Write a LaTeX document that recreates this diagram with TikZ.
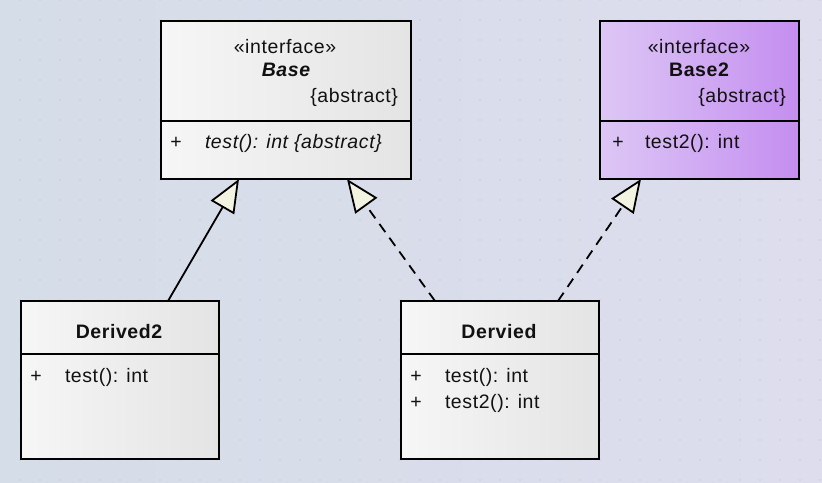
\documentclass[tikz,border=0pt]{standalone}
\usepackage{fontspec}
\setmainfont{Liberation Sans}[LetterSpace=3]
\usetikzlibrary{arrows.meta,calc}
\definecolor{bgL}{RGB}{213,221,232}
\definecolor{bgR}{RGB}{221,221,237}
\definecolor{boxL}{RGB}{246,246,246}
\definecolor{boxR}{RGB}{228,228,228}
\definecolor{purL}{RGB}{221,199,245}
\definecolor{purR}{RGB}{196,142,240}
\definecolor{tipfill}{RGB}{243,243,226}
\definecolor{dotc}{RGB}{182,188,202}
\definecolor{ink}{RGB}{17,17,17}
\tikzset{
  umlbox/.style={draw=black, line width=2pt, rectangle, outer sep=0pt, inner sep=0pt, anchor=north west, shading=axis, left color=boxL, right color=boxR, shading angle=90},
  purbox/.style={umlbox, left color=purL, right color=purR},
  txt/.style={inner sep=0pt, outer sep=0pt, text=ink, font=\fontsize{19.5}{23}\selectfont},
  realize/.style={draw=black, line width=1.8pt, -{Triangle[length=33pt, width=27pt, fill=tipfill, line join=miter]}},
  realizedash/.style={realize, dash pattern=on 10pt off 7pt},
}
\begin{document}
\begin{tikzpicture}[x=1pt,y=-1pt]
\useasboundingbox (0,0) rectangle (822,482);
\shade[left color=bgL, right color=bgR] (0,0) rectangle (822,482);
\foreach \i in {1,...,41} {
  \foreach \j in {0,...,24} {
    \fill[dotc] (\i*20,\j*20) circle (0.6pt);
  }
}
% boxes
\node[umlbox, minimum width=250pt, minimum height=158pt] (base) at (161,21) {};
\node[purbox, minimum width=199pt, minimum height=158pt] (base2) at (600,21) {};
\node[umlbox, minimum width=198pt, minimum height=158pt] (d2) at (21,301) {};
\node[umlbox, minimum width=198pt, minimum height=158pt] (dv) at (401,301) {};
% dividers
\draw[line width=2pt] ($(base.north west)+(0,100)$) -- ($(base.north east)+(0,100)$);
\draw[line width=2pt] ($(base2.north west)+(0,100)$) -- ($(base2.north east)+(0,100)$);
\draw[line width=2pt] ($(d2.north west)+(0,53)$) -- ($(d2.north east)+(0,53)$);
\draw[line width=2pt] ($(dv.north west)+(0,53)$) -- ($(dv.north east)+(0,53)$);
% Base texts
\node[txt, anchor=base] (b1) at (285,53) {«interface»};
\node[txt, anchor=base] (b2) at (286,76) {\bfseries\itshape Base};
\node[txt, anchor=base east] (b3) at (398,102) {\{abstract\}};
\node[txt, anchor=base] (b4) at (176,148) {+};
\node[txt, anchor=base west] (b5) at (205,148) {\itshape test(): int \{abstract\}};
% Base2 texts
\node[txt, anchor=base] (c1) at (699,53) {«interface»};
\node[txt, anchor=base] (c2) at (699,76) {\bfseries Base2};
\node[txt, anchor=base east] (c3) at (786,102) {\{abstract\}};
\node[txt, anchor=base] (c4) at (618,148) {+};
\node[txt, anchor=base west] (c5) at (645,148) {test2(): int};
% Derived2 texts
\node[txt, anchor=base] (e1) at (119,338) {\bfseries Derived2};
\node[txt, anchor=base] (e2) at (36,382) {+};
\node[txt, anchor=base west] (e3) at (65,382) {test(): int};
% Dervied texts
\node[txt, anchor=base] (f1) at (499,338) {\bfseries Dervied};
\node[txt, anchor=base] (f2) at (416,382) {+};
\node[txt, anchor=base west] (f3) at (445,382) {test(): int};
\node[txt, anchor=base] (f4) at (416,408) {+};
\node[txt, anchor=base west] (f5) at (445,408) {test2(): int};
% connectors
\draw[realize] ($(d2.north west)+(147,0)$) -- ($(base.south west)+(78,0)$);
\draw[realizedash] ($(dv.north west)+(34,0)$) -- ($(base.south west)+(186,0)$);
\draw[realizedash] ($(dv.north west)+(157,0)$) -- ($(base2.south west)+(41,0)$);
\end{tikzpicture}
\end{document}
